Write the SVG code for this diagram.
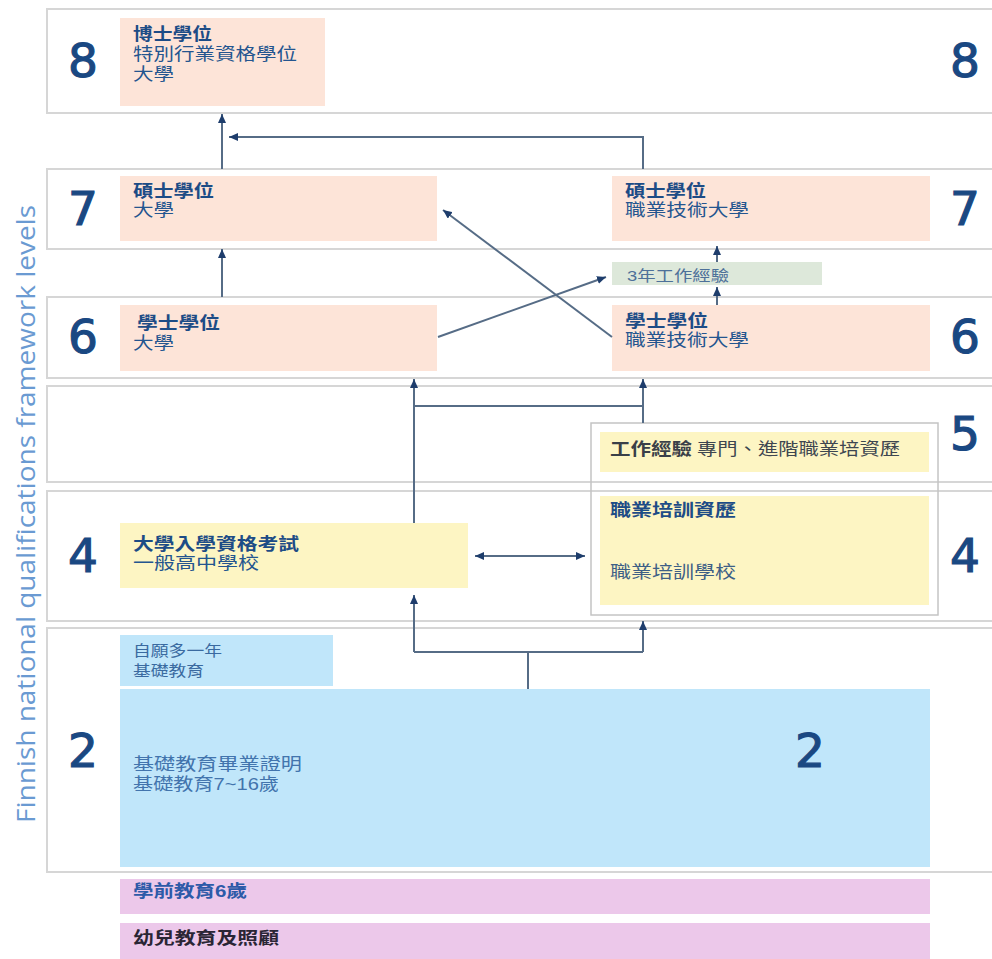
<svg xmlns="http://www.w3.org/2000/svg" width="992" height="959" viewBox="0 0 992 959">
<style>
.band{fill:#fff;stroke:#d6d6d6;stroke-width:2}
.peach{fill:#fde4d8}
.yellow{fill:#fdf5c3}
.blue{fill:#c0e6fa}
.pink{fill:#ecc8ea}
.green{fill:#dde8da}
.num{font-family:"DejaVu Sans","Liberation Sans",sans-serif;font-size:47px;fill:#1a4882;stroke:#1a4882;stroke-width:1.2;text-anchor:middle}
.t{font-family:"Liberation Sans","Noto Sans CJK TC",sans-serif;font-size:17px;fill:#24558f}
.b{font-weight:700;fill:#1d4c86}
.sm{font-size:15px}
.conn{fill:none;stroke:#566c86;stroke-width:2}
</style>
<defs>
<marker id="ah" markerUnits="userSpaceOnUse" markerWidth="9" markerHeight="8" refX="9" refY="4" orient="auto">
<path d="M0,0 L9,4 L0,8 z" fill="#1e3d6c"/>
</marker>
<marker id="ahs" markerUnits="userSpaceOnUse" markerWidth="9" markerHeight="8" refX="0" refY="4" orient="auto">
<path d="M9,0 L0,4 L9,8 z" fill="#1e3d6c"/>
</marker>
</defs>
<rect width="992" height="959" fill="#fff"/>

<g id="bands">
<rect class="band" x="47" y="9" width="960" height="104"/>
<rect class="band" x="47" y="169" width="960" height="80"/>
<rect class="band" x="47" y="297" width="960" height="81"/>
<rect class="band" x="47" y="386" width="960" height="96"/>
<rect class="band" x="47" y="491" width="960" height="130"/>
<rect class="band" x="47" y="628" width="960" height="244"/>
</g>

<text x="35" y="823" transform="rotate(-90 35 823)" textLength="618" lengthAdjust="spacingAndGlyphs" style="font-family:'Open Sans','DejaVu Sans',sans-serif;font-size:26px;fill:#6a9ad2">Finnish national qualifications framework levels</text>

<g id="levels">
<text class="num" x="83" y="77">8</text>
<text class="num" x="965" y="77">8</text>
<text class="num" x="83" y="225">7</text>
<text class="num" x="965" y="225">7</text>
<text class="num" x="83" y="353">6</text>
<text class="num" x="965" y="353">6</text>
<text class="num" x="965" y="450">5</text>
<text class="num" x="83" y="572">4</text>
<text class="num" x="965" y="572">4</text>
<text class="num" x="83" y="767">2</text>
</g>

<g id="frame45">
<rect x="591" y="423" width="347" height="192" fill="none" stroke="#c4c4c4" stroke-width="1.5"/>
</g>

<g id="n8">
<rect class="peach" x="120" y="18" width="205" height="88"/>
<text class="t b" x="133" y="40" textLength="79" lengthAdjust="spacingAndGlyphs">博士學位</text>
<text class="t" x="133" y="60" textLength="164" lengthAdjust="spacingAndGlyphs">特別行業資格學位</text>
<text class="t" x="133" y="80" textLength="41" lengthAdjust="spacingAndGlyphs">大學</text>
</g>

<g id="n7l">
<rect class="peach" x="120" y="176" width="317" height="65"/>
<text class="t b" x="133" y="197" textLength="81" lengthAdjust="spacingAndGlyphs">碩士學位</text>
<text class="t" x="133" y="216" textLength="41" lengthAdjust="spacingAndGlyphs">大學</text>
</g>

<g id="n7r">
<rect class="peach" x="612" y="176" width="318" height="65"/>
<text class="t b" x="625" y="197" textLength="81" lengthAdjust="spacingAndGlyphs">碩士學位</text>
<text class="t" x="625" y="216" textLength="124" lengthAdjust="spacingAndGlyphs">職業技術大學</text>
</g>

<g id="nwork3">
<rect class="green" x="612" y="262" width="210" height="23"/>
<text class="t sm" x="627" y="281" textLength="102" lengthAdjust="spacingAndGlyphs" style="fill:#4d7099">3年工作經驗</text>
</g>

<g id="n6l">
<rect class="peach" x="120" y="305" width="317" height="66"/>
<text class="t b" x="137" y="329" textLength="83" lengthAdjust="spacingAndGlyphs">學士學位</text>
<text class="t" x="133" y="349" textLength="41" lengthAdjust="spacingAndGlyphs">大學</text>
</g>

<g id="n6r">
<rect class="peach" x="612" y="305" width="318" height="66"/>
<text class="t b" x="625" y="327" textLength="83" lengthAdjust="spacingAndGlyphs">學士學位</text>
<text class="t" x="625" y="346" textLength="124" lengthAdjust="spacingAndGlyphs">職業技術大學</text>
</g>

<g id="n5">
<rect class="yellow" x="600" y="432" width="329" height="40"/>
<text class="t b" x="610" y="455" textLength="82" lengthAdjust="spacingAndGlyphs" style="fill:#3a3f48">工作經驗</text>
<text class="t" x="697" y="455" textLength="203" lengthAdjust="spacingAndGlyphs" style="fill:#3e4650">專門、進階職業培資歷</text>
</g>

<g id="n4r">
<rect class="yellow" x="600" y="496" width="329" height="109"/>
<text class="t b" x="610" y="516" textLength="126" lengthAdjust="spacingAndGlyphs">職業培訓資歷</text>
<text class="t" x="610" y="578" textLength="126" lengthAdjust="spacingAndGlyphs" style="fill:#3e5f86">職業培訓學校</text>
</g>

<g id="n4l">
<rect class="yellow" x="120" y="523" width="348" height="65"/>
<text class="t b" x="133" y="550" textLength="166" lengthAdjust="spacingAndGlyphs">大學入學資格考試</text>
<text class="t" x="133" y="569" textLength="126" lengthAdjust="spacingAndGlyphs">一般高中學校</text>
</g>

<g id="n2extra">
<rect class="blue" x="120" y="635" width="213" height="51"/>
<text class="t sm" x="133" y="656" textLength="89" lengthAdjust="spacingAndGlyphs" style="fill:#3a6aa0">自願多一年</text>
<text class="t sm" x="133" y="676" textLength="71" lengthAdjust="spacingAndGlyphs" style="fill:#3a6aa0">基礎教育</text>
</g>

<g id="n2">
<rect class="blue" x="120" y="689" width="810" height="178"/>
<text class="t" x="133" y="770" textLength="169" lengthAdjust="spacingAndGlyphs" style="fill:#4274ad">基礎教育畢業證明</text>
<text class="t" x="133" y="790" textLength="146" lengthAdjust="spacingAndGlyphs" style="fill:#4274ad">基礎教育7~16歲</text>
<text class="num" x="810" y="767">2</text>
</g>

<g id="npre">
<rect class="pink" x="120" y="879" width="810" height="35"/>
<text class="t b" x="133" y="897" textLength="114" lengthAdjust="spacingAndGlyphs" style="fill:#2d5aa8">學前教育6歲</text>
</g>

<g id="nearly">
<rect class="pink" x="120" y="923" width="810" height="40"/>
<text class="t b" x="133" y="944" textLength="146" lengthAdjust="spacingAndGlyphs" style="fill:#2a2535">幼兒教育及照顧</text>
</g>

<g id="connectors">
<path class="conn" d="M222,169 V114" marker-end="url(#ah)"/>
<path class="conn" d="M643,169 V137 H229" marker-end="url(#ah)"/>
<path class="conn" d="M222,297 V249" marker-end="url(#ah)"/>
<path class="conn" d="M438,337 L606,277" marker-end="url(#ah)"/>
<path class="conn" d="M612,337 L443,210" marker-end="url(#ah)"/>
<path class="conn" d="M717,305 V287" marker-end="url(#ah)"/>
<path class="conn" d="M717,262 V246" marker-end="url(#ah)"/>
<path class="conn" d="M414,523 V379" marker-end="url(#ah)"/>
<path class="conn" d="M414,406 H643"/>
<path class="conn" d="M643,423 V379" marker-end="url(#ah)"/>
<path class="conn" d="M475,556 H585" marker-start="url(#ahs)" marker-end="url(#ah)"/>
<path class="conn" d="M528,689 V652"/>
<path class="conn" d="M414,652 H643"/>
<path class="conn" d="M414,652 V595" marker-end="url(#ah)"/>
<path class="conn" d="M643,652 V621" marker-end="url(#ah)"/>
</g>
</svg>
